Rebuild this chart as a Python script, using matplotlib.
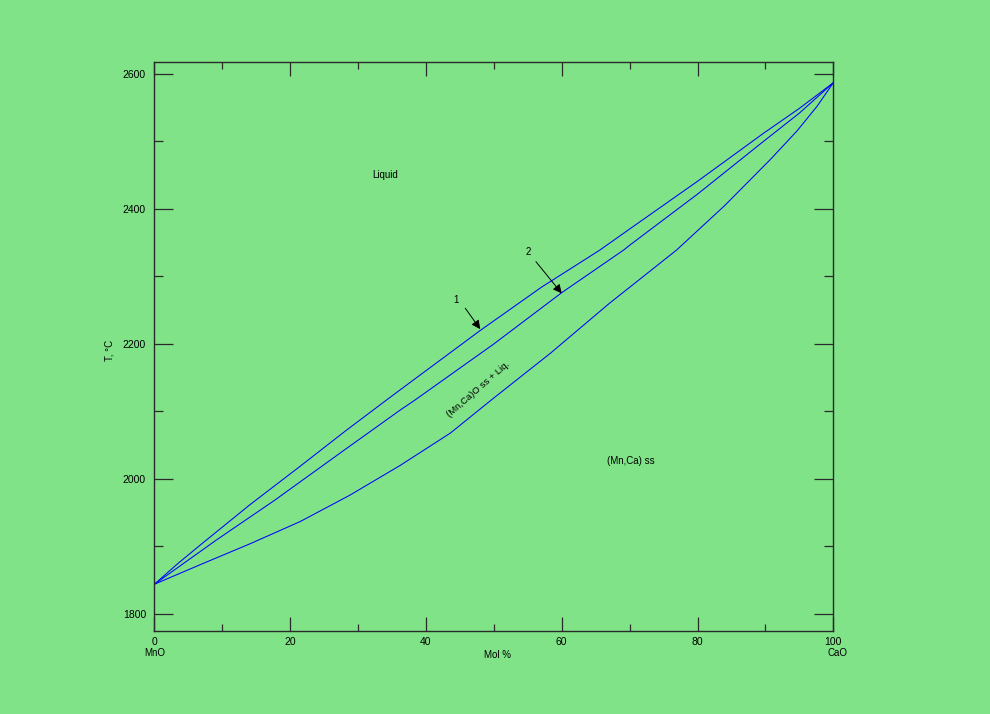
import matplotlib
matplotlib.use("Agg")
import matplotlib.pyplot as plt
import numpy as np

plt.rcParams['font.family'] = ['Liberation Sans', 'DejaVu Sans']

# Data (mol % CaO, temperature °C)
liq1_x = [0, 3.5, 6.75, 14.1, 21.5, 28, 34.2, 36.2, 48, 57, 65.6, 70.1, 80, 89.7, 95, 100]
liq1_t = [1844, 1875, 1902, 1962, 2019, 2070, 2117, 2132, 2220, 2284, 2339, 2371, 2441, 2512, 2549, 2587]

liq2_x = [0, 9.2, 17.8, 20, 28, 36.2, 38.4, 50, 60, 69.1, 70.1, 80, 89.7, 95, 100]
liq2_t = [1844, 1910, 1969, 1985, 2043, 2102, 2117, 2200, 2276, 2339, 2347, 2422, 2500, 2542, 2587]

sol_x = [0, 6.75, 14.1, 21.5, 28.8, 36.2, 43.6, 50, 58.3, 67, 76.9, 84, 90.7, 94.6, 97.6, 100]
sol_t = [1844, 1873, 1904, 1937, 1976, 2020, 2068, 2120, 2186, 2260, 2339, 2405, 2473, 2515, 2552, 2587]

x_ticks = [0, 20, 40, 60, 80, 100]
y_ticks = [1800, 2000, 2200, 2400, 2600]

bg = '#80e388'
fig = plt.figure(figsize=(9.9, 7.14), dpi=100, facecolor=bg)
ax = fig.add_axes([154.3/990, 1-631/714, (833.3-154.3)/990, (631-62.3)/714])
ax.set_facecolor(bg)

for xs, ts in [(liq1_x, liq1_t), (liq2_x, liq2_t), (sol_x, sol_t)]:
    ax.plot(xs, ts, color='#0000ff', lw=0.75)

ax.set_xlim(0, 100)
ax.set_ylim(1774.8, 2617.3)
ax.set_xticks(x_ticks)
ax.set_xticks([10, 30, 50, 70, 90], minor=True)
ax.set_yticks(y_ticks)
ax.set_yticks([1900, 2100, 2300, 2500], minor=True)
ax.set_xticklabels([str(v) for v in x_ticks])
ax.set_yticklabels([str(v) for v in y_ticks])

axcol = '#2a2a2a'
for s in ax.spines.values():
    s.set_color(axcol)
    s.set_linewidth(1.0)
ax.tick_params(axis='x', which='major', direction='in', length=10, width=0.9,
               top=True, bottom=True, colors=axcol, labelcolor='black',
               labelsize=7.5, pad=4)
ax.tick_params(axis='x', which='minor', direction='in', length=5, width=0.9,
               top=True, bottom=True, colors=axcol)
ax.tick_params(axis='y', which='major', direction='in', length=13.7, width=0.9,
               left=True, right=True, colors=axcol, labelcolor='black',
               labelsize=7.5, pad=6)
ax.tick_params(axis='y', which='minor', direction='in', length=6.5, width=0.9,
               left=True, right=True, colors=axcol)

fs = 7
fig.text(110/990, 1-350/714, 'T, °C', rotation=90, ha='center', va='center', fontsize=fs)
fig.text(497/990, 1-655/714, 'Mol %', ha='center', va='center', fontsize=fs)
fig.text(154.3/990, 1-653/714, 'MnO', ha='center', va='center', fontsize=fs)
fig.text(837/990, 1-653/714, 'CaO', ha='center', va='center', fontsize=fs)

ax.text(34.0, 2450, 'Liquid', ha='center', va='center', fontsize=fs)
ax.text(70.2, 2026, '(Mn,Ca) ss', ha='center', va='center', fontsize=fs)
ax.text(47.7, 2133, '(Mn,Ca)O ss + Liq.', ha='center', va='center', fontsize=6.8,
        rotation=41, rotation_mode='anchor')

ax.text(44.5, 2265, '1', ha='center', va='center', fontsize=fs)
ax.annotate('', xy=(48.0, 2222), xytext=(45.8, 2253),
            arrowprops=dict(arrowstyle='-|>', color='black', lw=0.7,
                            mutation_scale=13, shrinkA=0, shrinkB=0))
ax.text(55.0, 2336, '2', ha='center', va='center', fontsize=fs)
ax.annotate('', xy=(60.0, 2275), xytext=(56.2, 2322),
            arrowprops=dict(arrowstyle='-|>', color='black', lw=0.7,
                            mutation_scale=13, shrinkA=0, shrinkB=0))

fig.savefig('out.png', dpi=100, facecolor=bg)
